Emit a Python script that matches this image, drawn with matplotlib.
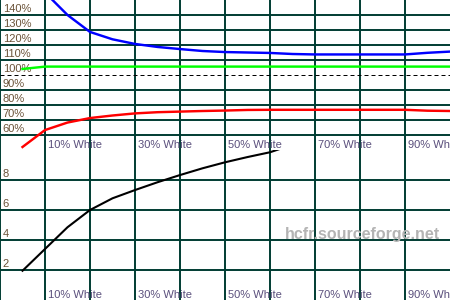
import numpy as np
import matplotlib
matplotlib.use("Agg")
import matplotlib.pyplot as plt

plt.rcParams['font.family'] = ['Liberation Sans', 'DejaVu Sans']

# measurement points (% white)
levels = [5, 10, 15, 20, 25, 30, 35, 40, 45, 50, 55, 60, 65, 70, 75, 80, 85, 90, 95, 100]

# RGB levels (%)
red_pct = [52, 63.3, 68.3, 71.3, 73, 74.4, 75.2, 75.6, 76, 76.3, 76.7, 76.8, 76.8, 76.8,
           76.8, 76.8, 76.8, 76.8, 76.2, 76.0]
green_pct = [104, 105.6, 105.6, 105.6, 105.6, 105.6, 105.6, 105.6, 105.6, 105.6, 105.6,
             105.6, 105.6, 105.6, 105.6, 105.6, 105.6, 105.6, 105.6, 105.6]
blue_pct = [185, 155, 140, 128.7, 123.8, 120.7, 118.7, 117.3, 116, 115.3, 115, 114.7, 114,
            113.7, 113.7, 113.7, 113.7, 113.7, 114.8, 115.6]

# lower panel series (runs off the top after ~60%)
lower_levels = [5, 10, 15, 20, 25, 30, 35, 40, 45, 50, 55, 60, 65]
lower_vals = [1.95, 3.4, 4.85, 6.0, 6.78, 7.33, 7.85, 8.33, 8.78, 9.18, 9.53, 9.85, 10.35]

top_ticks = [60, 70, 80, 90, 100, 110, 120, 130, 140]
bottom_ticks = [2, 4, 6, 8]
x_grid = [0, 10, 20, 30, 40, 50, 60, 70, 80, 90]
x_labels = [10, 30, 50, 70, 90]

grid_col = '#003c32'
ylab_col = '#6a5238'
xlab_col = '#5a4f7c'

fig = plt.figure(figsize=(4.5, 3), dpi=100, facecolor='white')
ax1 = fig.add_axes([0, 0.5, 1, 0.5])
ax2 = fig.add_axes([0, 0, 1, 0.5])


def setup(ax, ylim):
    ax.set_xlim(0, 100)
    ax.set_ylim(*ylim)
    for s in ax.spines.values():
        s.set_visible(False)
    ax.set_xticks([])
    ax.set_yticks([])
    for x in x_grid:
        ax.axvline(x, color=grid_col, lw=1.4, zorder=1)
    for x in x_labels:
        ax.annotate(f"{x}% White", xy=(x, ylim[0]), xytext=(2, 1.5),
                    textcoords='offset points', ha='left', va='baseline',
                    fontsize=8, color=xlab_col, zorder=2)


setup(ax1, (50, 150))
for v in top_ticks:
    if v == 100:
        ax1.axhline(v, color='black', lw=0.72, dashes=(4, 3), zorder=1)
    else:
        ax1.axhline(v, color=grid_col, lw=1.4, zorder=1)
    ax1.annotate(f"{v}%", xy=(0, v), xytext=(2, 2), textcoords='offset points',
                 ha='left', va='baseline', fontsize=8, color=ylab_col, zorder=2)

ax1.plot(levels, blue_pct, color='#0000ff', lw=1.75, zorder=3)
ax1.plot(levels, green_pct, color='#00ff00', lw=1.75, zorder=3)
ax1.plot(levels, red_pct, color='#ff0000', lw=1.75, zorder=3)

setup(ax2, (0, 10))
for v in bottom_ticks:
    ax2.axhline(v, color=grid_col, lw=1.4, zorder=1)
    ax2.annotate(f"{v}", xy=(0, v), xytext=(2, 2), textcoords='offset points',
                 ha='left', va='baseline', fontsize=8, color=ylab_col, zorder=2)

ax2.plot(lower_levels, lower_vals, color='black', lw=1.5, zorder=3)
ax2.text(63.3, 4.07, "hcfr.sourceforge.net", ha='left', va='baseline',
         fontsize=11.5, fontweight='bold', color='#b4b4b4', zorder=4)

fig.savefig('out.png', dpi=100, facecolor='white')
